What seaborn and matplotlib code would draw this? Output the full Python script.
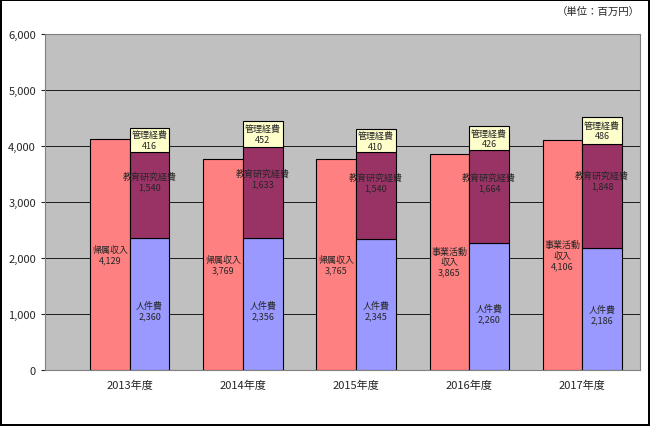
import matplotlib
matplotlib.use("Agg")
import matplotlib.pyplot as plt
import seaborn as sns
import numpy as np
from matplotlib.ticker import FuncFormatter

years = ["2013年度", "2014年度", "2015年度", "2016年度", "2017年度"]
revenue = [4129, 3769, 3765, 3865, 4106]
revenue_labels = ["帰属収入", "帰属収入", "帰属収入", "事業活動\n収入", "事業活動\n収入"]
personnel = [2360, 2356, 2345, 2260, 2186]
education = [1540, 1633, 1540, 1664, 1848]
admin = [416, 452, 410, 426, 486]

sns.set_style("white")
plt.rcParams['font.family'] = ['Noto Sans CJK JP', 'DejaVu Sans']

fig = plt.figure(figsize=(6.5, 4.27), dpi=100)
fig.patch.set_edgecolor("black"); fig.patch.set_linewidth(1.5)
ax = fig.add_axes([45/650, (427-371)/427, 595/650, 336/427])
ax.set_facecolor("#C0C0C0")

x = np.arange(len(years))
w = 0.35
ax.bar(x - w/2, revenue, w, color="#FF8080", edgecolor="black", linewidth=0.8, zorder=3)
p = np.array(personnel); e = np.array(education); a = np.array(admin)
ax.bar(x + w/2, p, w, color="#9999FF", edgecolor="black", linewidth=0.8, zorder=3)
ax.bar(x + w/2, e, w, bottom=p, color="#993366", edgecolor="black", linewidth=0.8, zorder=3)
ax.bar(x + w/2, a, w, bottom=p+e, color="#FFFFCC", edgecolor="black", linewidth=0.8, zorder=3)

fs = 6.5
for i in range(len(years)):
    ax.text(x[i]-w/2, revenue[i]*0.5, f"{revenue_labels[i]}\n{revenue[i]:,}", ha="center", va="center", fontsize=fs, zorder=4)
    ax.text(x[i]+w/2, p[i]*0.45, f"人件費\n{p[i]:,}", ha="center", va="center", fontsize=fs, zorder=4)
    ax.text(x[i]+w/2, p[i]+e[i]*0.65, f"教育研究経費\n{e[i]:,}", ha="center", va="center", fontsize=fs, zorder=4)
    ax.text(x[i]+w/2, p[i]+e[i]+a[i]*0.5, f"管理経費\n{a[i]:,}", ha="center", va="center", fontsize=fs, zorder=4)

ax.set_ylim(0, 6000)
ax.set_xlim(-0.75, 4.51)
ax.set_yticks(range(0, 6001, 1000))
ax.yaxis.set_major_formatter(FuncFormatter(lambda v, _: f"{int(v):,}"))
ax.set_xticks(x)
ax.set_xticklabels(years, fontsize=8)
ax.tick_params(axis="y", labelsize=8, length=3, left=True)
ax.grid(axis="y", color="black", linewidth=0.6, zorder=0)
for s in ax.spines.values():
    s.set_color("#808080")
fig.text(640/650, 1-12/427, "（単位：百万円）", ha="right", va="center", fontsize=7.5)
fig.savefig("out.png", dpi=100, edgecolor=fig.get_edgecolor())
